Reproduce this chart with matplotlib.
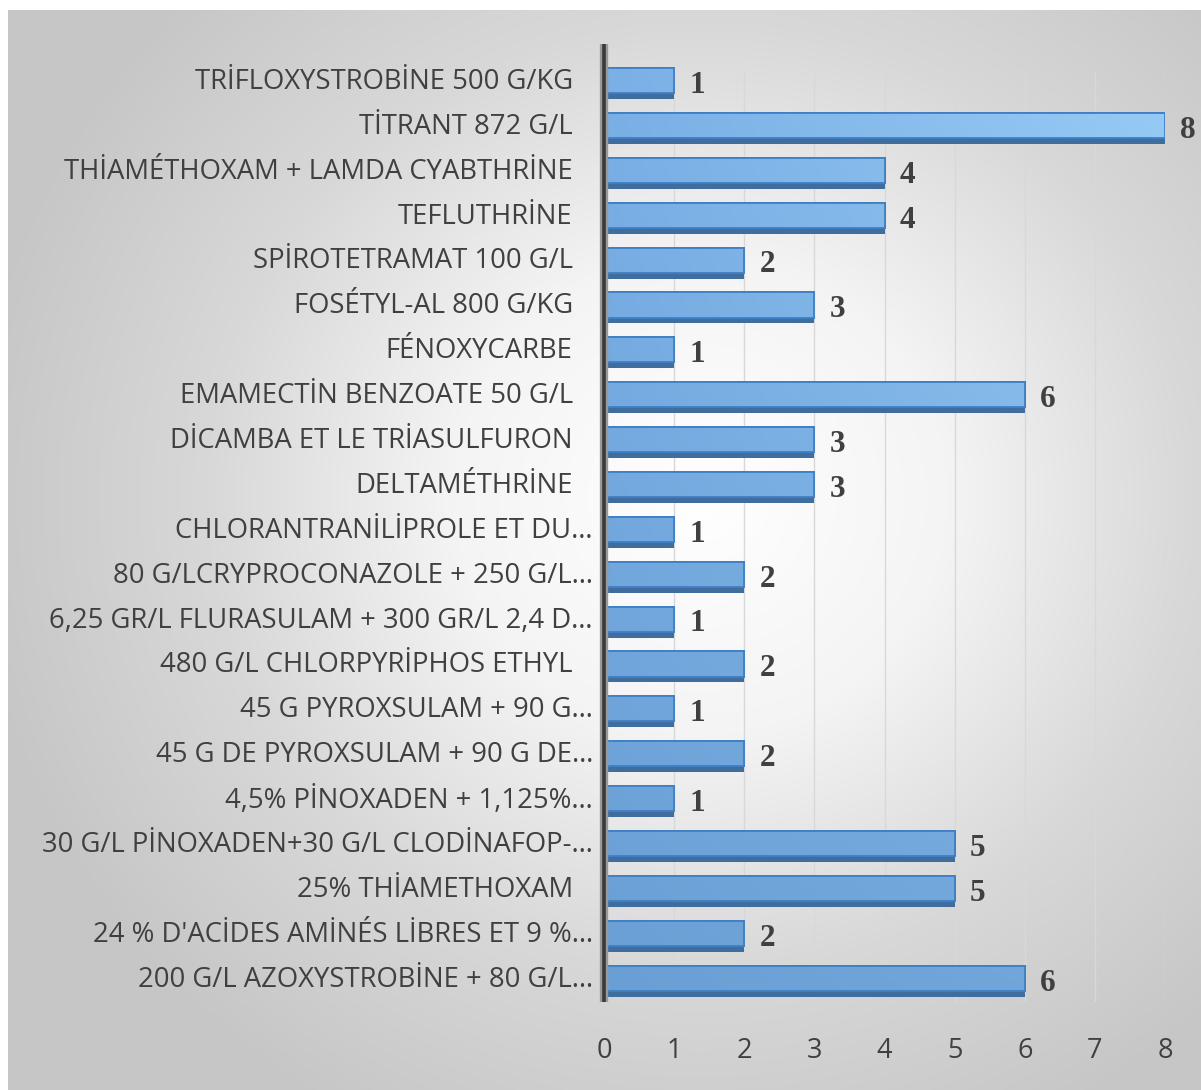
import numpy as np
import matplotlib
matplotlib.use("Agg")
import matplotlib.pyplot as plt
from matplotlib.colors import LinearSegmentedColormap

# ---------------- data ----------------
categories = [
    "TRİFLOXYSTROBİNE 500 G/KG",
    "TİTRANT 872 G/L",
    "THİAMÉTHOXAM + LAMDA CYABTHRİNE",
    "TEFLUTHRİNE",
    "SPİROTETRAMAT 100 G/L",
    "FOSÉTYL-AL 800 G/KG",
    "FÉNOXYCARBE",
    "EMAMECTİN BENZOATE 50 G/L",
    "DİCAMBA ET LE TRİASULFURON",
    "DELTAMÉTHRİNE",
    "CHLORANTRANİLİPROLE ET DU…",
    "80 G/LCRYPROCONAZOLE + 250 G/L…",
    "6,25 GR/L FLURASULAM + 300 GR/L 2,4 D…",
    "480 G/L CHLORPYRİPHOS ETHYL",
    "45 G PYROXSULAM + 90 G…",
    "45 G DE PYROXSULAM + 90 G DE…",
    "4,5% PİNOXADEN + 1,125%…",
    "30 G/L PİNOXADEN+30 G/L CLODİNAFOP-…",
    "25% THİAMETHOXAM",
    "24 % D'ACİDES AMİNÉS LİBRES ET 9 %…",
    "200 G/L AZOXYSTROBİNE + 80 G/L…",
]
values = [1, 8, 4, 4, 2, 3, 1, 6, 3, 3, 1, 2, 1, 2, 1, 2, 1, 5, 5, 2, 6]
x_ticks = [0, 1, 2, 3, 4, 5, 6, 7, 8]

W, H = 1201, 1090
fig = plt.figure(figsize=(W / 100, H / 100), dpi=100)
fig.patch.set_facecolor("white")

# ---------------- background panel with radial gradient ----------------
bg = fig.add_axes([8 / W, 0, 1 - 8 / W, 1 - 10 / H], zorder=0)
bg.set_axis_off()
ph, pw = 540, 600
yy, xx = np.mgrid[0:ph, 0:pw]
cx, cy = 0.58 * pw, 0.45 * ph
r = np.sqrt(((xx - cx) / (pw * 0.62)) ** 2 + ((yy - cy) / (ph * 0.66)) ** 2)
r = np.clip(r, 0, 1)
bg_cmap = LinearSegmentedColormap.from_list("bg", ["#ffffff", "#f4f4f4", "#d8d8d8", "#c6c6c6"])
bg.imshow(r, cmap=bg_cmap, vmin=0, vmax=1, aspect="auto", extent=(0, 1, 0, 1), interpolation="bilinear")
bg.set_xlim(0, 1)
bg.set_ylim(0, 1)

# ---------------- main axes ----------------
ax = fig.add_axes([604 / W, 1 - 1002 / H, (1165 - 604) / W, (1002 - 59.5) / H], zorder=2)
ax.patch.set_alpha(0)
n = len(categories)
pos = np.arange(n)
ax.set_xlim(0, 8)
ax.set_ylim(n - 0.5, -0.5)

# gridlines
ax.vlines(x_ticks[1:], -0.25, n - 0.5, color="#d8d8d8", lw=1.0, zorder=1)

# bar shadow (darker bottom strip) and main bars
shadow = ax.barh(pos + 0.07, values, height=0.62, color="#3f6e9e", edgecolor="none", zorder=2)
bars = ax.barh(pos - 0.03, values, height=0.56, color="#7cb1e5", edgecolor="#3f7fc4", linewidth=1.3, zorder=3)

# gradient fill clipped to each bar
grad_h, grad_w = 60, 200
gy, gx = np.mgrid[0:grad_h, 0:grad_w]
tl = np.array([0x7a, 0xb0, 0xe6]) / 255
tr = np.array([0x98, 0xcc, 0xf7]) / 255
bl = np.array([0x6a, 0x9f, 0xd5]) / 255
br = np.array([0x72, 0xa8, 0xdb]) / 255
fx = (gx / (grad_w - 1))[..., None]
fy = (gy / (grad_h - 1))[..., None]
img = (tl * (1 - fx) * (1 - fy) + tr * fx * (1 - fy) + bl * (1 - fx) * fy + br * fx * fy)
for b in bars:
    im = ax.imshow(img, extent=(0, 8, n - 0.5, -0.5), aspect="auto", zorder=3.5, interpolation="bilinear")
    im.set_clip_path(b)
# bar outlines on top
ax.barh(pos - 0.03, values, height=0.56, color="none", edgecolor="#3f7fc4", linewidth=1.3, zorder=4)

# value labels
for v, p in zip(values, pos):
    ax.annotate(str(v), xy=(v, p), xytext=(11, -2.5), textcoords="offset points",
                ha="left", va="center", fontsize=22.5, fontweight="bold",
                family="Liberation Serif", color="#404040", zorder=5)

# category labels
ytrans = ax.get_yaxis_transform()
for lab, p in zip(categories, pos):
    off = -8 if lab.endswith("…") else -22.5
    ax.annotate(lab, xy=(0, p), xycoords=ytrans, xytext=(off, 0), textcoords="offset points",
                ha="right", va="center", fontsize=19.8, family="Open Sans", color="#404040",
                annotation_clip=False)

# y axis line with shadow
ax.plot([0, 0], [-0.85, n - 0.5], color="#9a9a9a", lw=6, solid_capstyle="butt",
        clip_on=False, zorder=5)
ax.plot([0, 0], [-0.85, n - 0.5], color="#3a3a3a", lw=2.6, solid_capstyle="butt",
        clip_on=False, zorder=6)

ax.set_yticks([])
ax.set_xticks(x_ticks)
ax.set_xticklabels([str(t) for t in x_ticks], fontsize=19.5, family="Open Sans", color="#404040")
ax.tick_params(axis="x", length=0, pad=25)
for s in ax.spines.values():
    s.set_visible(False)

fig.savefig("out.png", dpi=100, facecolor="white")
